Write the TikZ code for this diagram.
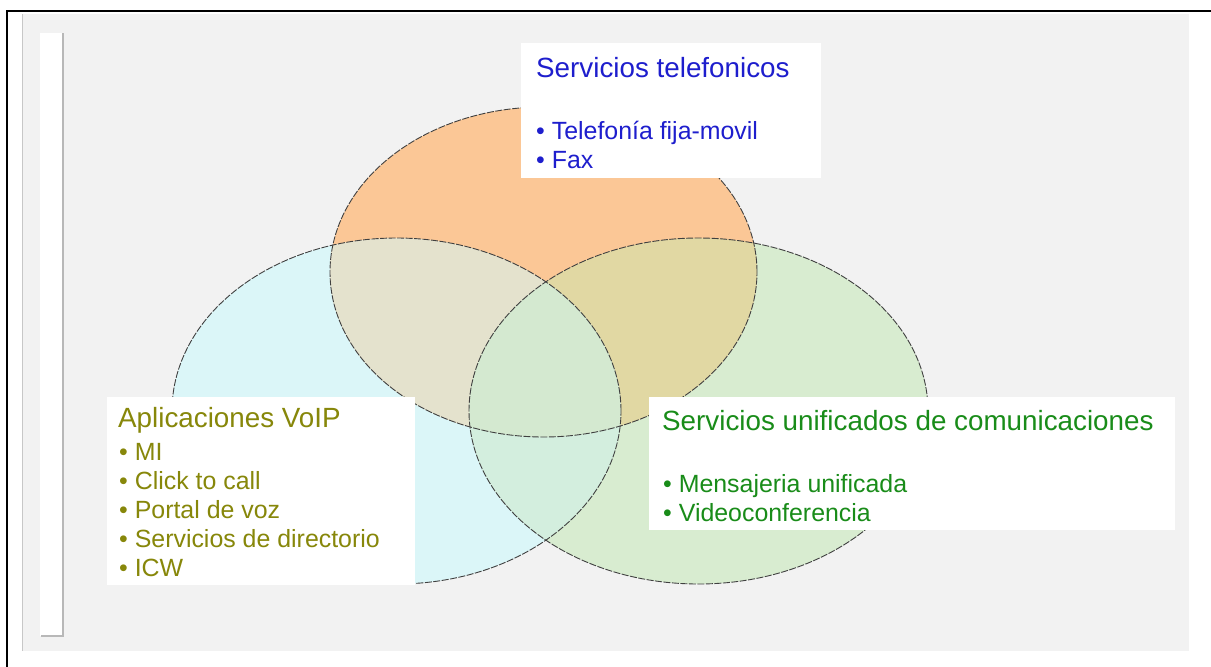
\documentclass[tikz,border=0pt]{standalone}
\usepackage{fontspec}
\setmainfont{Liberation Sans}
\definecolor{bgray}{RGB}{242,242,242}
\definecolor{corange}{RGB}{251,199,150}
\definecolor{ccyan}{RGB}{219,246,248}
\definecolor{cgreen}{RGB}{216,236,208}
\definecolor{coc}{RGB}{228,226,205}
\definecolor{cog}{RGB}{225,216,163}
\definecolor{ccg}{RGB}{211,238,222}
\definecolor{call}{RGB}{212,233,208}
\definecolor{tblue}{RGB}{30,30,205}
\definecolor{tolive}{RGB}{135,135,10}
\definecolor{tgreen}{RGB}{25,140,25}
\begin{document}
\begin{tikzpicture}[x=1pt,y=-1pt,
  vennline/.style={draw=black!75, line width=0.9pt, dash pattern=on 7pt off 1.5pt},
  wbox/.style={fill=white, inner sep=0pt, anchor=north west},
  ttl/.style={anchor=base west, inner sep=0pt, font=\fontsize{27.8}{30}\selectfont},
  itm/.style={anchor=base west, inner sep=0pt, font=\fontsize{24.9}{28}\selectfont}]
\useasboundingbox (0,0) rectangle (1211,667);
\fill[white] (0,0) rectangle (1211,667);
% frame
\draw[black, line width=2.5pt] (7,667) -- (7,11) -- (1211,11);
% background panel
\fill[bgray] (22,14) rectangle (1189,651);
\draw[black!22, line width=1pt] (22,14) -- (22,651);
% left strip
\fill[white] (40,33) rectangle (63,636);
\draw[black!28, line width=1.2pt] (63,33) -- (63,636) -- (41,636);
% Venn fills
\def\Oell{(543.5,272) ellipse [x radius=213.5pt, y radius=165pt]}
\def\Cell{(396.5,411) ellipse [x radius=224.5pt, y radius=173pt]}
\def\Gell{(698.5,411) ellipse [x radius=229.5pt, y radius=173pt]}
\fill[ccyan] \Cell;
\fill[cgreen] \Gell;
\fill[corange] \Oell;
\begin{scope}
  \clip \Oell;
  \fill[coc] \Cell;
  \fill[cog] \Gell;
\end{scope}
\begin{scope}
  \clip \Cell;
  \fill[ccg] \Gell;
\end{scope}
\begin{scope}
  \clip \Oell;
  \clip \Cell;
  \fill[call] \Gell;
\end{scope}
\draw[vennline] \Oell;
\draw[vennline] \Cell;
\draw[vennline] \Gell;
% white boxes
\node (tbox) [wbox, minimum width=300pt, minimum height=135pt] at (521,43) {};
\node (lbox) [wbox, minimum width=308pt, minimum height=188pt] at (107,397) {};
\node (gbox) [wbox, minimum width=526pt, minimum height=133pt] at (649,397) {};
% top texts
\node (t0) [ttl, text=tblue] at (536,77) {Servicios telefonicos};
\node (t1) [itm, text=tblue] at (536,139) {• Telefonía fija-movil};
\node (t2) [itm, text=tblue] at (536,168) {• Fax};
% left texts
\node (l0) [ttl, text=tolive] at (118,427) {Aplicaciones VoIP};
\node (l1) [itm, text=tolive] at (119,460) {• MI};
\node (l2) [itm, text=tolive] at (119,489) {• Click to call};
\node (l3) [itm, text=tolive] at (119,518) {• Portal de voz};
\node (l4) [itm, text=tolive] at (119,547) {• Servicios de directorio};
\node (l5) [itm, text=tolive] at (119,576) {• ICW};
% right texts
\node (g0) [ttl, text=tgreen] at (662,430) {Servicios unificados de comunicaciones};
\node (g1) [itm, text=tgreen] at (663,492) {• Mensajeria unificada};
\node (g2) [itm, text=tgreen] at (663,521) {• Videoconferencia};
\end{tikzpicture}
\end{document}
